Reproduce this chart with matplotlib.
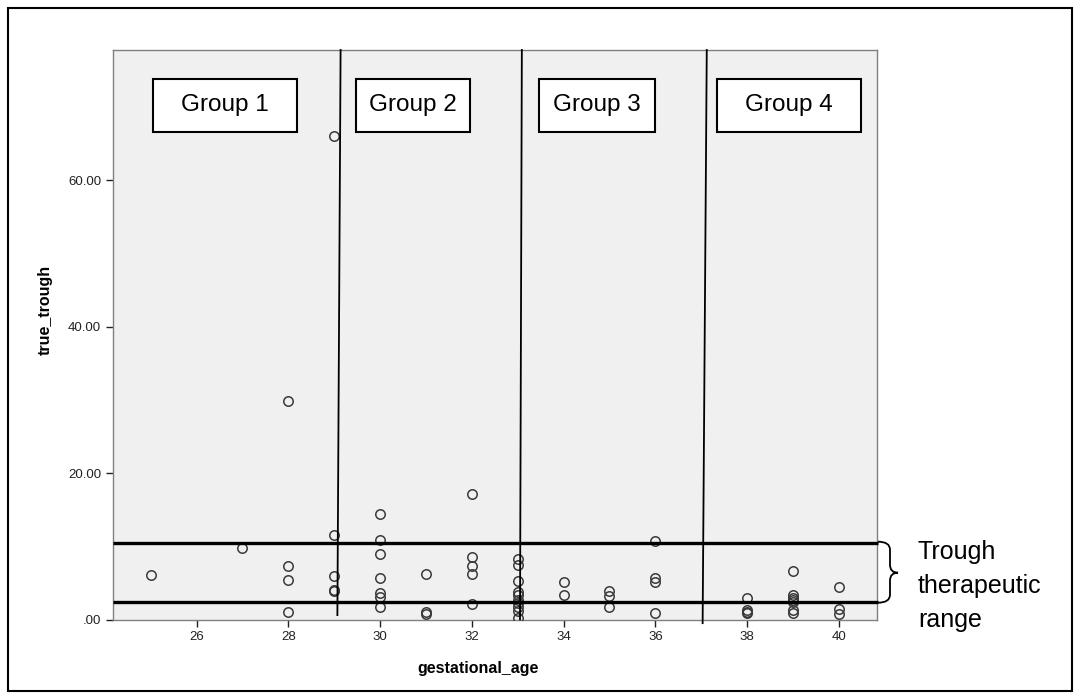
import matplotlib.pyplot as plt
from matplotlib.patches import Rectangle
from matplotlib.path import Path
from matplotlib.patches import PathPatch

# gestational age (weeks) and true trough values
ages_25 = [25]
trough_25 = [6.07]
ages_27 = [27]
trough_27 = [9.8]
ages_28 = [28, 28, 28, 28]
trough_28 = [29.8, 7.35, 5.39, 1.07]
ages_29 = [29, 29, 29, 29, 29]
trough_29 = [66.0, 11.6, 6.0, 4.0, 3.85]
ages_30 = [30, 30, 30, 30, 30, 30, 30]
trough_30 = [14.36, 10.85, 8.9, 5.7, 3.6, 3.1, 1.66]
ages_31 = [31, 31, 31]
trough_31 = [6.2, 1.0, 0.8]
ages_32 = [32, 32, 32, 32, 32]
trough_32 = [17.2, 8.57, 7.35, 6.17, 2.12]
ages_33 = [33, 33, 33, 33, 33, 33, 33, 33, 33, 33]
trough_33 = [8.2, 7.4, 5.2, 3.8, 3.3, 2.7, 2.2, 1.7, 1.1, 0.2]
ages_34 = [34, 34]
trough_34 = [5.07, 3.34]
ages_35 = [35, 35, 35]
trough_35 = [3.93, 3.2, 1.66]
ages_36 = [36, 36, 36, 36]
trough_36 = [10.72, 5.62, 5.07, 0.84]
ages_38 = [38, 38, 38, 38]
trough_38 = [3.0, 1.3, 1.0, 0.9]
ages_39 = [39, 39, 39, 39, 39, 39, 39]
trough_39 = [6.67, 3.3, 3.0, 2.7, 2.4, 1.3, 0.9]
ages_40 = [40, 40, 40]
trough_40 = [4.5, 1.5, 0.8]

x = (ages_25 + ages_27 + ages_28 + ages_29 + ages_30 + ages_31 + ages_32
     + ages_33 + ages_34 + ages_35 + ages_36 + ages_38 + ages_39 + ages_40)
y = (trough_25 + trough_27 + trough_28 + trough_29 + trough_30 + trough_31
     + trough_32 + trough_33 + trough_34 + trough_35 + trough_36 + trough_38
     + trough_39 + trough_40)

x_ticks = [26, 28, 30, 32, 34, 36, 38, 40]
y_ticks = [0, 20, 40, 60]
y_tick_labels = ['.00', '20.00', '40.00', '60.00']

range_low = 2.45
range_high = 10.5
# group borders (slightly slanted, drawn by hand in the original)
border_bottom = [29.07, 33.05, 37.03]
border_top = [29.14, 33.09, 37.12]
border_y0 = [0.6, 0.0, -0.5]
groups = ['Group 1', 'Group 2', 'Group 3', 'Group 4']
group_box_px = [(153, 297), (356, 470), (539, 655), (717, 861)]

W, H = 1080, 699
plt.rcParams['font.family'] = ['Liberation Sans', 'DejaVu Sans']
fig = plt.figure(figsize=(W / 100, H / 100), dpi=100)


def fx(px):
    return px / W


def fy(py):
    return 1 - py / H


ax = fig.add_axes([fx(113), fy(619.5), fx(877) - fx(113), fy(50) - fy(619.5)])
ax.set_facecolor('#f0f0f0')
ax.set_xlim(24.18, 40.83)
ax.set_ylim(0, 77.8)

ax.plot(x, y, 'o', mfc='none', mec='#3a3a3a', ms=6.8, mew=1.1, zorder=3)

for x0, x1, y0 in zip(border_bottom, border_top, border_y0):
    ax.plot([x0, x1], [y0, 77.8], color='black', lw=1.3, clip_on=False, zorder=4)

for v in (range_low, range_high):
    ax.plot([24.18, 40.85], [v, v], color='black', lw=2.4, clip_on=False,
            solid_capstyle='butt', zorder=4)

for sp in ax.spines.values():
    sp.set_color('#808080')
    sp.set_linewidth(1)

ax.set_xticks(x_ticks)
ax.set_yticks(y_ticks)
ax.set_yticklabels(y_tick_labels)
ax.tick_params(labelsize=9.5, colors='#222222', length=5, width=1)
ax.set_xlabel('gestational_age', fontsize=11.5, fontweight='bold')
ax.set_ylabel('true_trough', fontsize=11.5, fontweight='bold')
ax.xaxis.set_label_coords((478 - 113) / 764, -(661 - 619.5) / 569.5)
ax.yaxis.set_label_coords(-(113 - 53) / 764, (619.5 - 310) / 569.5)

# group boxes
for name, (l, r) in zip(groups, group_box_px):
    fig.patches.append(Rectangle((fx(l), fy(132)), fx(r) - fx(l), fy(79) - fy(132),
                                 transform=fig.transFigure, facecolor='white',
                                 edgecolor='black', lw=1.5, zorder=5))
    fig.text(fx((l + r) / 2), fy(105.5), name, ha='center', va='center',
             fontsize=17.5, zorder=6)

# brace for the therapeutic range
top, bot, mid = 541.7, 602.7, 572.7
pts = [(878, top), (890, top), (890, top + 8), (890, mid - 8), (890, mid), (898, mid),
       (890, mid), (890, mid + 8), (890, bot - 8), (890, bot), (878, bot)]
codes = [Path.MOVETO, Path.CURVE3, Path.CURVE3, Path.LINETO, Path.CURVE3, Path.CURVE3,
         Path.CURVE3, Path.CURVE3, Path.LINETO, Path.CURVE3, Path.CURVE3]
brace = Path([(fx(a), fy(b)) for a, b in pts], codes)
fig.patches.append(PathPatch(brace, transform=fig.transFigure, facecolor='none',
                             edgecolor='black', lw=1.3))
fig.text(fx(918), fy(586), 'Trough\ntherapeutic\nrange', ha='left', va='center',
         fontsize=18, linespacing=1.5)

# outer frame
fig.patches.append(Rectangle((fx(8), fy(691)), fx(1072) - fx(8), fy(8) - fy(691),
                             transform=fig.transFigure, facecolor='none',
                             edgecolor='black', lw=1.5))

fig.savefig('out.png', dpi=100)
